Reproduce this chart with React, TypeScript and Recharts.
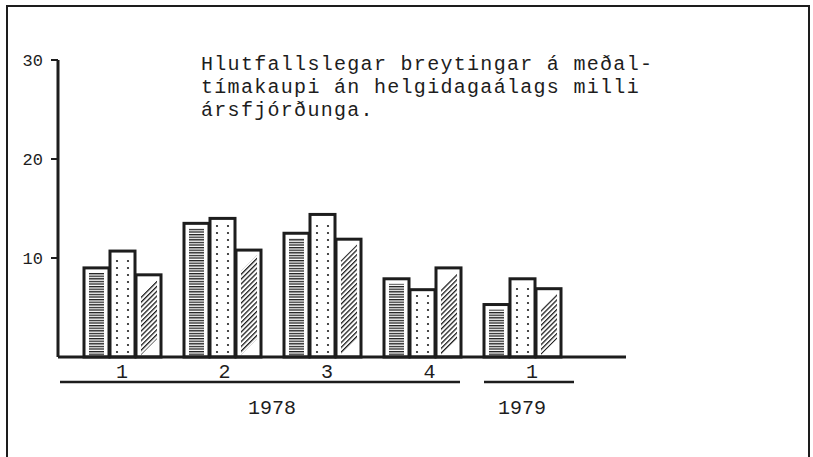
import React from 'react';
import { BarChart, Bar, XAxis, YAxis } from 'recharts';

// ---- data ----
const quarters = ['1', '2', '3', '4', '1'];
const seriesA = [9.0, 13.5, 12.5, 7.9, 5.3]; // horizontal hatch
const seriesB = [10.7, 14.0, 14.4, 6.8, 7.9]; // dotted
const seriesC = [8.3, 10.8, 11.9, 9.0, 6.9]; // diagonal hatch
const yTicks = [10, 20, 30];
const titleLines = [
  'Hlutfallslegar breytingar á meðal-',
  'tímakaupi án helgidagaálags milli',
  'ársfjórðunga.',
];
const yearGroups = [
  { label: '1978', first: 0, last: 3 },
  { label: '1979', first: 4, last: 4 },
];

const data = quarters.map((q, i) => ({
  key: String(i),
  quarter: q,
  a: seriesA[i],
  b: seriesB[i],
  c: seriesC[i],
}));

// ---- style / layout ----
const INK = '#1d1d1d';
const BAND = 100;
const YEAR_LINE_PAD = [
  [62, 38],
  [38, 52],
];
const MONO = '"Liberation Mono", "DejaVu Sans Mono", monospace';

function HBar(p: any) {
  const { x, y, width: w, height: h } = p;
  if (!h || h <= 0) return null;
  return (
    <g>
      <rect x={x} y={y} width={w} height={h} fill="#fff" stroke={INK} strokeWidth={3} />
      <rect x={x + 5} y={y + 5} width={w - 10} height={h - 6} fill="url(#hlines)" />
    </g>
  );
}

function DBar(p: any) {
  const { x, y, width: w, height: h } = p;
  if (!h || h <= 0) return null;
  const dots: any[] = [];
  let k = 0;
  for (let yy = y + h - 5; yy > y + 5; yy -= 7) {
    dots.push(<circle key={k++} cx={x + 7} cy={yy} r={1.1} fill={INK} />);
    dots.push(<circle key={k++} cx={x + w - 7} cy={yy} r={1.1} fill={INK} />);
  }
  return (
    <g>
      <rect x={x} y={y} width={w} height={h} fill="#fff" stroke={INK} strokeWidth={3} />
      {dots}
    </g>
  );
}

function SBar(p: any) {
  const { x, y, width: w, height: h } = p;
  if (!h || h <= 0) return null;
  const x0 = x + 5;
  const x1 = x + w - 4;
  const y0 = y + 5;
  const y1 = y + h - 2;
  const d = x1 - x0;
  const pts = `${x0},${y0 + d} ${x1},${y0} ${x1},${Math.max(y0, y1 - d)} ${x0},${y1}`;
  return (
    <g>
      <rect x={x} y={y} width={w} height={h} fill="#fff" stroke={INK} strokeWidth={3} />
      <polygon points={pts} fill="url(#diag)" />
    </g>
  );
}

function XTick(props: any) {
  const { x, y, index } = props;
  const els: any[] = [];
  els.push(
    <text
      key="q"
      x={x + index * 2.5}
      y={y + 21}
      textAnchor="middle"
      fontFamily={MONO}
      fontSize={20}
      fill={INK}
    >
      {quarters[index]}
    </text>
  );
  yearGroups.forEach((g, gi) => {
    if (g.first === index) {
      const span = (g.last - g.first) * BAND;
      const [l, r] = YEAR_LINE_PAD[gi];
      els.push(
        <line key={'l' + gi} x1={x - l} x2={x + span + r} y1={y + 25} y2={y + 25} stroke={INK} strokeWidth={2.4} />
      );
      els.push(
        <text
          key={'t' + gi}
          x={x + span / 2}
          y={y + 57}
          textAnchor="middle"
          fontFamily={MONO}
          fontSize={20}
          fill={INK}
        >
          {g.label}
        </text>
      );
    }
  });
  return <g>{els}</g>;
}

export default function App() {
  return (
    <div style={{ position: 'absolute', left: 0, top: 0, width: 813, height: 457, overflow: 'hidden', background: '#fff' }}>
      <svg width={0} height={0} style={{ position: 'absolute' }}>
        <defs>
          <pattern id="hlines" patternUnits="userSpaceOnUse" width={4} height={2.6}>
            <rect x={0} y={0} width={4} height={1.3} fill={INK} />
          </pattern>
          <pattern id="diag" patternUnits="userSpaceOnUse" width={3.4} height={3.4} patternTransform="rotate(45)">
            <rect x={0} y={0} width={1.3} height={3.4} fill={INK} />
          </pattern>
        </defs>
      </svg>
      <div
        style={{
          position: 'absolute',
          left: 6,
          top: 5,
          width: 804,
          height: 470,
          border: `2px solid ${INK}`,
          borderBottom: 'none',
          boxSizing: 'border-box',
        }}
      />
      <div
        style={{
          position: 'absolute',
          left: 201,
          top: 53,
          fontFamily: MONO,
          fontSize: 20,
          letterSpacing: 1.3,
          lineHeight: '23px',
          color: INK,
          whiteSpace: 'pre',
        }}
      >
        {titleLines.map((t, i) => (
          <div key={i}>{t}</div>
        ))}
      </div>
      <div style={{ position: 'absolute', left: 0, top: 0 }}>
        <BarChart
          width={813}
          height={457}
          data={data}
          margin={{ top: 60, right: 187, left: 0, bottom: 30 }}
          barSize={25}
          barGap={1}
        >
          <XAxis
            dataKey="key"
            height={70}
            padding={{ left: 14, right: 54 }}
            axisLine={{ stroke: INK, strokeWidth: 3 }}
            tickLine={false}
            tickSize={0}
            tickMargin={0}
            interval={0}
            tick={<XTick />}
          />
          <YAxis
            width={58}
            domain={[0, 30]}
            ticks={yTicks}
            axisLine={{ stroke: INK, strokeWidth: 3 }}
            tickLine={{ stroke: INK, strokeWidth: 2 }}
            tickSize={7}
            tickMargin={8}
            tick={{ fontFamily: MONO, fontSize: 17, fill: INK }}
          />
          <Bar dataKey="a" shape={HBar} isAnimationActive={false} />
          <Bar dataKey="b" shape={DBar} isAnimationActive={false} />
          <Bar dataKey="c" shape={SBar} isAnimationActive={false} />
        </BarChart>
      </div>
    </div>
  );
}
